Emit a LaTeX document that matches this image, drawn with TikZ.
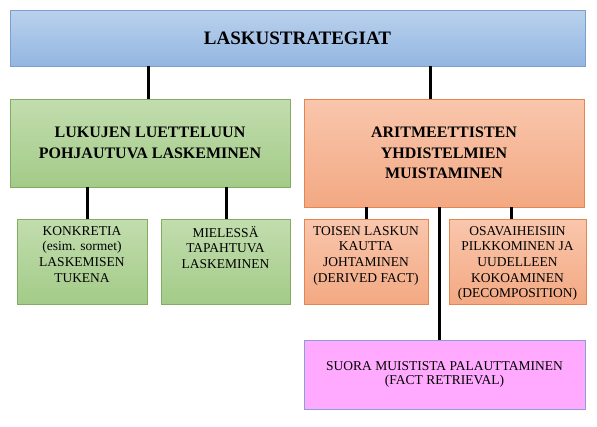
\documentclass[tikz,border=0pt]{standalone}
\usepackage{fontspec}
\setmainfont{Liberation Serif}
\definecolor{bluetop}{HTML}{BAD1ED}
\definecolor{bluebot}{HTML}{93B6E1}
\definecolor{blueline}{HTML}{7C9FCC}
\definecolor{greentop}{HTML}{C2DDAE}
\definecolor{greenbot}{HTML}{A3CB88}
\definecolor{greenline}{HTML}{82AC62}
\definecolor{orangetop}{HTML}{F9C6AC}
\definecolor{orangebot}{HTML}{F3A983}
\definecolor{orangeline}{HTML}{E4864F}
\definecolor{pinkfill}{HTML}{FFAAFF}
\definecolor{pinkline}{HTML}{8A9FD6}
\begin{document}
\begin{tikzpicture}[x=1pt, y=1pt,
    box/.style={rectangle, inner sep=0pt, align=center},
    bluebox/.style={box, draw=blueline, top color=bluetop, bottom color=bluebot},
    greenbox/.style={box, draw=greenline, top color=greentop, bottom color=greenbot},
    orangebox/.style={box, draw=orangeline, top color=orangetop, bottom color=orangebot},
    pinkbox/.style={box, draw=pinkline, fill=pinkfill},
    head/.style={font=\fontsize{16}{20.5}\selectfont\bfseries},
    small/.style={font=\fontsize{13.5}{15.6}\selectfont},
    toptext/.style={label={[small, align=center, anchor=north, yshift=-4pt]north:#1}},
    link/.style={line width=3pt}]
\useasboundingbox (0,0) rectangle (597,-426);
% top level
\node[bluebox, minimum width=575, minimum height=56,
      font=\fontsize{19}{22}\selectfont\bfseries] (strat) at (297.5,-38) {LASKUSTRATEGIAT};
% second level
\node[greenbox, head, minimum width=280, minimum height=88] (count) at (150,-143)
    {LUKUJEN LUETTELUUN\\POHJAUTUVA LASKEMINEN};
\node[orangebox, head, minimum width=280, minimum height=108] (arith) at (444,-153)
    {ARITMEETTISTEN\\YHDISTELMIEN\\MUISTAMINEN};
% third level
\node[greenbox, minimum width=130, minimum height=85,
      toptext={KONKRETIA\\(esim. sormet)\\LASKEMISEN\\TUKENA}] (concrete) at (82,-261.5) {};
\node[greenbox, minimum width=129, minimum height=85,
      toptext={MIELESSÄ\\TAPAHTUVA\\LASKEMINEN}] (mental) at (225.5,-261.5) {};
\node[orangebox, minimum width=124, minimum height=85,
      toptext={TOISEN LASKUN\\KAUTTA\\JOHTAMINEN\\(DERIVED FACT)}] (derived) at (366,-261.5) {};
\node[orangebox, minimum width=137, minimum height=85,
      toptext={OSAVAIHEISIIN\\PILKKOMINEN JA\\UUDELLEEN\\KOKOAMINEN\\(DECOMPOSITION)}] (decomp) at (517.5,-261.5) {};
\node[pinkbox, font=\fontsize{13.5}{14.5}\selectfont, minimum width=281, minimum height=69] (retrieval) at (444.5,-374.5)
    {SUORA MUISTISTA PALAUTTAMINEN\\(FACT RETRIEVAL)};
% connectors
\draw[link] (148,0 |- strat.south) -- (148,0 |- count.north);
\draw[link] (430,0 |- strat.south) -- (430,0 |- arith.north);
\draw[link] (87,0 |- count.south) -- (87,0 |- concrete.north);
\draw[link] (226,0 |- count.south) -- (226,0 |- mental.north);
\draw[link] (366,0 |- arith.south) -- (366,0 |- derived.north);
\draw[link] (511,0 |- arith.south) -- (511,0 |- decomp.north);
\draw[link] (439,0 |- arith.south) -- (439,0 |- retrieval.north);
\end{tikzpicture}
\end{document}
